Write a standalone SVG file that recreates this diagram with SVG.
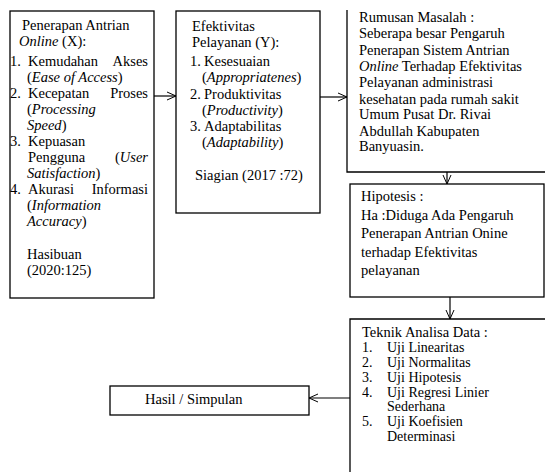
<svg xmlns="http://www.w3.org/2000/svg" width="545" height="472" viewBox="0 0 545 472">
<defs>
<marker id="arr" viewBox="0 0 10 10" refX="10" refY="5" markerWidth="10" markerHeight="10" markerUnits="userSpaceOnUse" orient="auto">
<path d="M1,1 L10,5 L1,9" fill="none" stroke="#000" stroke-width="1"/>
</marker>
<style>
.b{fill:#fff;stroke:#000;stroke-width:1.3}
.l{fill:none;stroke:#000;stroke-width:1.3}
.i{font-style:italic}
.e{text-anchor:end}
.s{font-size:14px}
.c{fill:none;stroke:#000;stroke-width:1.2}
</style>
</defs>
<rect width="545" height="472" fill="#fff"/>
<g id="connectors">
<line class="c" x1="154" y1="96" x2="176" y2="96" marker-end="url(#arr)"/>
<line class="c" x1="320" y1="97" x2="347" y2="97" marker-end="url(#arr)"/>
<line class="c" x1="447" y1="172" x2="447" y2="184" marker-end="url(#arr)"/>
<line class="c" x1="450" y1="297" x2="450" y2="319" marker-end="url(#arr)"/>
<line class="c" x1="350" y1="398" x2="309" y2="398" marker-end="url(#arr)"/>
</g>
<g font-family="'Liberation Serif', 'DejaVu Serif', serif" font-size="14.5" fill="#000">
<g id="penerapan">
<rect class="b" x="10" y="11" width="144" height="287"/>
<text x="22" y="30">Penerapan Antrian</text>
<text x="19" y="46"><tspan class="i">Online</tspan> (X):</text>
<text x="10" y="66">1.</text><text x="28" y="66">Kemudahan</text><text class="e" x="148" y="66">Akses</text>
<text x="27" y="82">(<tspan class="i">Ease of Access</tspan>)</text>
<text x="10" y="98">2.</text><text x="28" y="98">Kecepatan</text><text class="e" x="148" y="98">Proses</text>
<text x="27" y="114">(<tspan class="i">Processing</tspan></text>
<text x="27" y="130"><tspan class="i">Speed</tspan>)</text>
<text x="10" y="146">3.</text><text x="28" y="146">Kepuasan</text>
<text x="28" y="162">Pengguna</text><text class="e" x="148" y="162">(<tspan class="i">User</tspan></text>
<text x="27" y="178"><tspan class="i">Satisfaction</tspan>)</text>
<text x="10" y="194">4.</text><text x="28" y="194">Akurasi</text><text class="e" x="148" y="194">Informasi</text>
<text x="27" y="210">(<tspan class="i">Information</tspan></text>
<text x="27" y="226"><tspan class="i">Accuracy</tspan>)</text>
<text x="27" y="259">Hasibuan</text>
<text x="27" y="275">(2020:125)</text>
</g>
<g id="efektivitas">
<rect class="b" x="176" y="11" width="144" height="202"/>
<text x="192" y="31">Efektivitas</text>
<text x="192" y="47">Pelayanan (Y):</text>
<text x="190" y="66">1.</text><text x="204" y="66">Kesesuaian</text>
<text x="202" y="82">(<tspan class="i">Appropriatenes</tspan>)</text>
<text x="190" y="99">2.</text><text x="204" y="99">Produktivitas</text>
<text x="202" y="115">(<tspan class="i">Productivity</tspan>)</text>
<text x="190" y="131">3.</text><text x="204" y="131">Adaptabilitas</text>
<text x="202" y="147">(<tspan class="i">Adaptability</tspan>)</text>
<text x="195" y="180">Siagian (2017 :72)</text>
</g>
<g id="rumusan">
<path class="l" d="M347,10 V172 H550"/>
<text x="359" y="22">Rumusan Masalah :</text>
<text x="359" y="38">Seberapa besar Pengaruh</text>
<text x="359" y="55">Penerapan Sistem Antrian</text>
<text x="359" y="71"><tspan class="i">Online</tspan> Terhadap Efektivitas</text>
<text x="359" y="87">Pelayanan administrasi</text>
<text x="359" y="104">kesehatan pada rumah sakit</text>
<text x="359" y="119">Umum Pusat Dr. Rivai</text>
<text x="359" y="136">Abdullah Kabupaten</text>
<text x="359" y="151">Banyuasin.</text>
</g>
<g id="hipotesis">
<rect class="b" x="350" y="184" width="194" height="113"/>
<text x="361" y="201">Hipotesis :</text>
<text x="361" y="220">Ha :Diduga Ada Pengaruh</text>
<text x="361" y="238">Penerapan Antrian Onine</text>
<text x="361" y="257">terhadap Efektivitas</text>
<text x="361" y="275">pelayanan</text>
</g>
<g id="teknik">
<path class="l" d="M350,475 V319 H550"/>
<text x="362" y="337">Teknik Analisa Data :</text>
<text class="s" x="362" y="352">1.</text><text class="s" x="387" y="352">Uji Linearitas</text>
<text class="s" x="362" y="367">2.</text><text class="s" x="387" y="367">Uji Normalitas</text>
<text class="s" x="362" y="382">3.</text><text class="s" x="387" y="382">Uji Hipotesis</text>
<text class="s" x="362" y="397">4.</text><text class="s" x="387" y="397">Uji Regresi Linier</text>
<text class="s" x="387" y="411">Sederhana</text>
<text class="s" x="362" y="426">5.</text><text class="s" x="387" y="426">Uji Koefisien</text>
<text class="s" x="387" y="441">Determinasi</text>
</g>
<g id="hasil">
<rect class="b" x="110" y="386" width="199" height="29"/>
<text x="145" y="404">Hasil / Simpulan</text>
</g>
</g>
</svg>
